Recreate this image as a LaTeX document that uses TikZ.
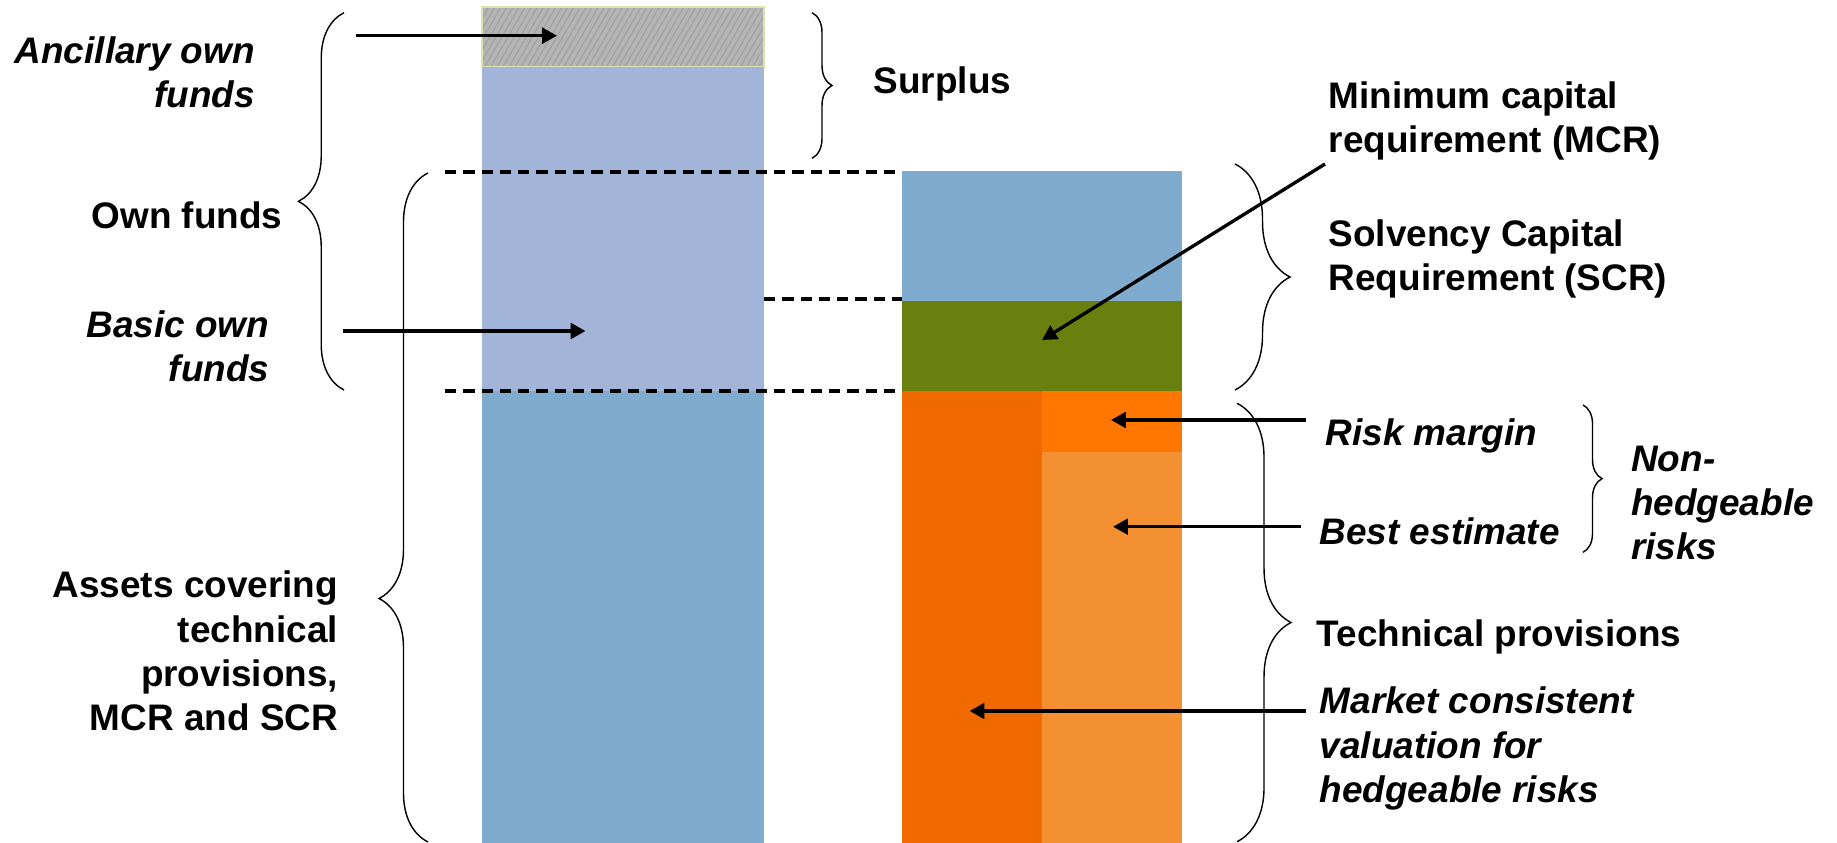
\documentclass[tikz,border=0pt]{standalone}
\usepackage{fontspec}
\setmainfont{Liberation Sans}
\usetikzlibrary{arrows.meta,decorations.pathreplacing,patterns.meta}
\definecolor{ownblue}{HTML}{A2B5D8}
\definecolor{astblue}{HTML}{7FACCE}
\definecolor{mcrgreen}{HTML}{6A800E}
\definecolor{orgdark}{HTML}{F06A00}
\definecolor{orgbright}{HTML}{FF7700}
\definecolor{orglight}{HTML}{F39032}
\definecolor{hatchgray}{HTML}{B4B4B4}
\definecolor{hatchline}{HTML}{A0A0A0}
\definecolor{hatchedge}{HTML}{D7E4AE}

\begin{document}
\begin{tikzpicture}[
  x=0.01cm, y=-0.01cm,
  lbl/.style={font=\fontsize{10.5}{12.6}\selectfont\bfseries, inner sep=0pt},
  ilbl/.style={font=\fontsize{10.5}{12.6}\selectfont\bfseries\itshape, inner sep=0pt},
  arr/.style={-{Triangle[length=4.2pt,width=4.4pt]}, line width=0.95pt},
  brc/.style={decorate, decoration={brace, amplitude=#1}, line width=0.4pt},
  lvl/.style={line width=0.95pt, dash pattern=on 3.2pt off 2pt}
]
  \useasboundingbox (0,0) rectangle (1837,843);

  % left column
  \fill[hatchgray] (482,7) rectangle (764,67);
  \fill[pattern={Lines[angle=60,distance=1.5pt,line width=0.3pt]}, pattern color=hatchline] (482,7) rectangle (764,67);
  \draw[hatchedge, line width=0.5pt] (482,7) rectangle (764,67);
  \fill[ownblue] (482,67) rectangle (764,391);
  \fill[astblue] (482,391) rectangle (764,843);

  % right column
  \fill[astblue] (902,171) rectangle (1182,301);
  \fill[mcrgreen] (902,301) rectangle (1182,391);
  \fill[orgdark] (902,391) rectangle (1042,843);
  \fill[orgbright] (1042,391) rectangle (1182,452);
  \fill[orglight] (1042,452) rectangle (1182,843);

  \draw[lvl] (445,172) -- (902,172);
  \draw[lvl] (764,299) -- (902,299);
  \draw[lvl] (445,391) -- (902,391);

  \node[ilbl, align=right, anchor=east] (anc) at (255.5,72.5) {Ancillary own\\funds};
  \node[lbl, align=right, anchor=east] (own) at (283,215) {Own funds};
  \node[ilbl, align=right, anchor=east] (bof) at (270,346) {Basic own\\funds};
  \node[lbl, align=right, anchor=east] (ast) at (338.7,651) {Assets covering\\technical\\provisions,\\MCR and SCR};
  \node[lbl, anchor=west] (sur) at (873,84) {Surplus};
  \node[lbl, align=left, anchor=west] (mcr) at (1328,121) {Minimum capital\\requirement (MCR)};
  \node[lbl, align=left, anchor=west] (scr) at (1328,259) {Solvency Capital\\Requirement (SCR)};
  \node[ilbl, anchor=west] (rm) at (1325,435.7) {Risk margin};
  \node[ilbl, anchor=west] (be) at (1319,531.7) {Best estimate};
  \node[ilbl, align=left, anchor=west] (nh) at (1630.5,503) {Non-\\hedgeable\\risks};
  \node[lbl, anchor=west] (tp) at (1316,637.3) {Technical provisions};
  \node[ilbl, align=left, anchor=west] (mkt) at (1319,748.5) {Market consistent\\valuation for\\hedgeable risks};

  \draw[brc=0.455cm] (344,390) -- (344,12.7);
  \draw[brc=0.49cm, decoration={aspect=0.364}] (428,842) -- (428,173);
  \draw[brc=0.2cm] (812,12.7) -- (812,158.3);
  \draw[brc=0.55cm] (1235,164) -- (1235,390);
  \draw[brc=0.54cm] (1237,403.3) -- (1237,841.7);
  \draw[brc=0.19cm] (1583,405) -- (1583,552.3);

  \coordinate (a1) at (356,35.7);
  \coordinate (a2) at (557,35.7);
  \coordinate (b1) at (343,331);
  \coordinate (b2) at (585.5,331);
  \coordinate (c1) at (1325,164);
  \coordinate (c2) at (1042,340);
  \coordinate (d1) at (1306,420);
  \coordinate (d2) at (1111,420);
  \coordinate (e1) at (1301,526.7);
  \coordinate (e2) at (1113,526.7);
  \coordinate (f1) at (1306,711);
  \coordinate (f2) at (969.6,711);

  \draw[arr] (a1) -- (a2);
  \draw[arr] (b1) -- (b2);
  \draw[arr] (c1) -- (c2);
  \draw[arr] (d1) -- (d2);
  \draw[arr] (e1) -- (e2);
  \draw[arr] (f1) -- (f2);
\end{tikzpicture}
\end{document}
